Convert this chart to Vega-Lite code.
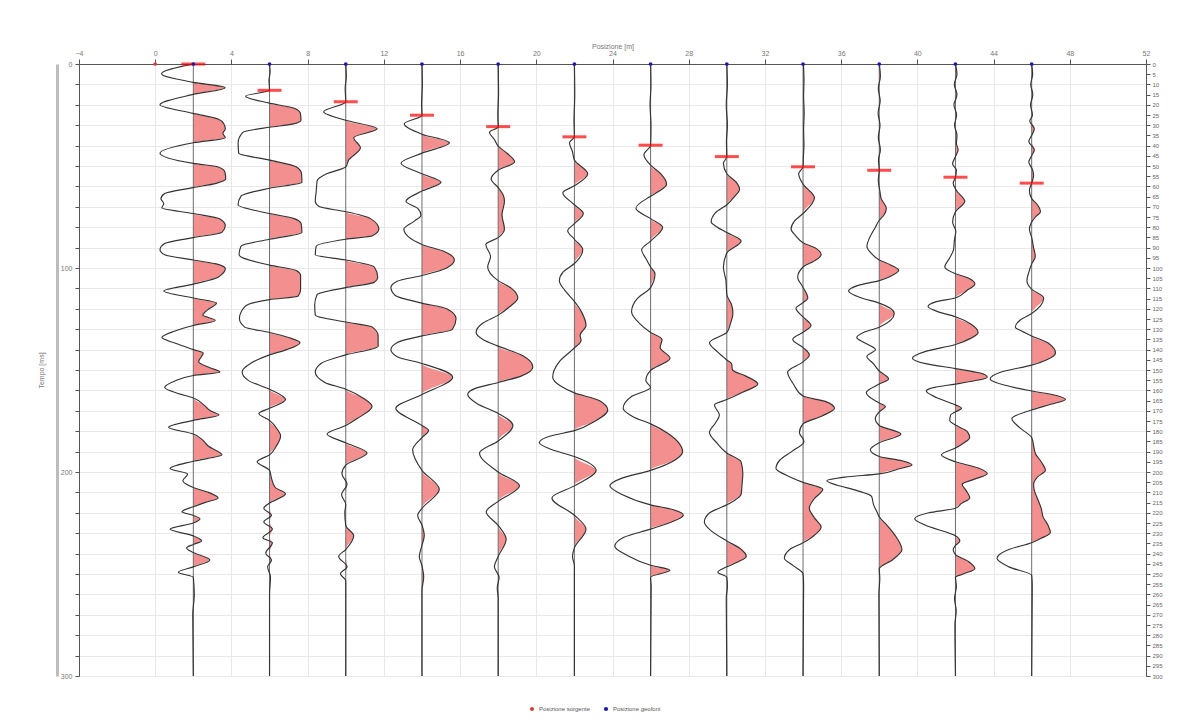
{
  "$schema": "https://vega.github.io/schema/vega-lite/v6.json",
  "width": 1067,
  "height": 612,
  "autosize": "none",
  "padding": {"left": 79, "top": 64, "right": 46, "bottom": 51},
  "background": "white",
  "config": {
    "font": "Liberation Sans",
    "view": {"stroke": null},
    "axis": {"labelFont": "Liberation Sans", "titleFont": "Liberation Sans"}
  },
  "datasets": {
    "tr": [
{"p":2,"t":0,"a":0},{"p":2,"t":4.8,"a":-1.67},{"p":2,"t":9,"a":0},{"p":2,"t":11.6,"a":1.67},{"p":2,"t":14.9,"a":0},{"p":2,"t":20,"a":-1.75},{"p":2,"t":24.2,"a":0},{"p":2,"t":27,"a":1.3},{"p":2,"t":29.3,"a":1.6},{"p":2,"t":31.8,"a":1.68},{"p":2,"t":34,"a":1.55},{"p":2,"t":36.1,"a":1.68},{"p":2,"t":38.6,"a":0},{"p":2,"t":43.7,"a":-1.75},{"p":2,"t":48.7,"a":0},{"p":2,"t":50.5,"a":1.3},{"p":2,"t":53,"a":1.66},{"p":2,"t":56.4,"a":1.7},{"p":2,"t":58.5,"a":1.2},{"p":2,"t":60.6,"a":0},{"p":2,"t":63.5,"a":-1.5},{"p":2,"t":66,"a":-1.7},{"p":2,"t":68.5,"a":-1.55},{"p":2,"t":70.5,"a":-1.65},{"p":2,"t":73.3,"a":0},{"p":2,"t":76,"a":1.4},{"p":2,"t":79.2,"a":1.68},{"p":2,"t":82.5,"a":1.5},{"p":2,"t":85.1,"a":0},{"p":2,"t":88,"a":-1.5},{"p":2,"t":91,"a":-1.75},{"p":2,"t":93.5,"a":-1.5},{"p":2,"t":96.1,"a":0},{"p":2,"t":98,"a":1.2},{"p":2,"t":100.3,"a":1.68},{"p":2,"t":104.5,"a":1.3},{"p":2,"t":107.9,"a":0},{"p":2,"t":111.3,"a":-1.55},{"p":2,"t":114.7,"a":0},{"p":2,"t":117.2,"a":1.22},{"p":2,"t":120.5,"a":0.75},{"p":2,"t":123.1,"a":0.5},{"p":2,"t":125.7,"a":1.15},{"p":2,"t":128.2,"a":0},{"p":2,"t":131,"a":-1.0},{"p":2,"t":134.1,"a":-1.65},{"p":2,"t":137,"a":-0.9},{"p":2,"t":140,"a":0},{"p":2,"t":141.7,"a":0.52},{"p":2,"t":145.9,"a":0.28},{"p":2,"t":149,"a":0.9},{"p":2,"t":151,"a":1.4},{"p":2,"t":152.7,"a":0},{"p":2,"t":155.5,"a":-1.0},{"p":2,"t":158.6,"a":-1.5},{"p":2,"t":161.5,"a":-0.8},{"p":2,"t":163.7,"a":0},{"p":2,"t":167.1,"a":0.55},{"p":2,"t":170,"a":0.9},{"p":2,"t":172.1,"a":1.35},{"p":2,"t":174.7,"a":0},{"p":2,"t":178.1,"a":-1.3},{"p":2,"t":181.4,"a":0},{"p":2,"t":184,"a":0.45},{"p":2,"t":187.4,"a":0.8},{"p":2,"t":191.6,"a":1.5},{"p":2,"t":194.7,"a":0},{"p":2,"t":198.3,"a":-1.22},{"p":2,"t":201,"a":-0.3},{"p":2,"t":204.3,"a":-0.55},{"p":2,"t":207.6,"a":0},{"p":2,"t":210,"a":0.8},{"p":2,"t":212.7,"a":1.3},{"p":2,"t":215,"a":0.6},{"p":2,"t":217,"a":0},{"p":2,"t":219.5,"a":-0.6},{"p":2,"t":221.3,"a":0},{"p":2,"t":222.9,"a":0.35},{"p":2,"t":225,"a":0},{"p":2,"t":228,"a":-1.22},{"p":2,"t":231.3,"a":0},{"p":2,"t":233.8,"a":0.44},{"p":2,"t":235.5,"a":0},{"p":2,"t":237.2,"a":-0.35},{"p":2,"t":239.5,"a":0},{"p":2,"t":243.1,"a":0.87},{"p":2,"t":246.5,"a":0},{"p":2,"t":249.1,"a":-0.79},{"p":2,"t":251.6,"a":0},{"p":2,"t":260,"a":0.05},{"p":2,"t":270,"a":-0.03},{"p":2,"t":300,"a":0},
{"p":6,"t":0,"a":0},{"p":6,"t":4,"a":0.03},{"p":6,"t":8,"a":-0.03},{"p":6,"t":12.9,"a":0},{"p":6,"t":15.8,"a":-1.26},{"p":6,"t":19.2,"a":0},{"p":6,"t":21.7,"a":1.3},{"p":6,"t":24.2,"a":1.62},{"p":6,"t":27.6,"a":1.65},{"p":6,"t":29.5,"a":1.2},{"p":6,"t":31,"a":0},{"p":6,"t":33.5,"a":-1.4},{"p":6,"t":38.6,"a":-1.65},{"p":6,"t":43.7,"a":-1.62},{"p":6,"t":47.1,"a":0},{"p":6,"t":50.4,"a":1.4},{"p":6,"t":53.8,"a":1.68},{"p":6,"t":58,"a":1.7},{"p":6,"t":60.9,"a":0},{"p":6,"t":64.8,"a":-1.5},{"p":6,"t":69,"a":-1.65},{"p":6,"t":73.3,"a":0},{"p":6,"t":75.8,"a":1.3},{"p":6,"t":78.3,"a":1.66},{"p":6,"t":82.6,"a":1.7},{"p":6,"t":85.9,"a":0},{"p":6,"t":89.3,"a":-1.5},{"p":6,"t":93.5,"a":-1.6},{"p":6,"t":98.6,"a":0},{"p":6,"t":101.2,"a":1.4},{"p":6,"t":103.7,"a":1.63},{"p":6,"t":110.4,"a":1.63},{"p":6,"t":113.8,"a":1.5},{"p":6,"t":115.5,"a":0},{"p":6,"t":118.9,"a":-1.3},{"p":6,"t":124.8,"a":-1.58},{"p":6,"t":129,"a":-1.3},{"p":6,"t":131.6,"a":0},{"p":6,"t":134.1,"a":1.0},{"p":6,"t":136.6,"a":1.6},{"p":6,"t":140,"a":0.9},{"p":6,"t":142.6,"a":0},{"p":6,"t":146.8,"a":-1.0},{"p":6,"t":151,"a":-1.44},{"p":6,"t":155.2,"a":-1.1},{"p":6,"t":159.4,"a":0},{"p":6,"t":164.5,"a":0.84},{"p":6,"t":168.8,"a":0},{"p":6,"t":171.3,"a":-0.56},{"p":6,"t":174.7,"a":0},{"p":6,"t":178.9,"a":0.4},{"p":6,"t":182.3,"a":0.58},{"p":6,"t":187.4,"a":0.35},{"p":6,"t":191.6,"a":0},{"p":6,"t":195,"a":-0.65},{"p":6,"t":199.2,"a":0},{"p":6,"t":203,"a":0.1},{"p":6,"t":207.6,"a":0.3},{"p":6,"t":210.7,"a":0.84},{"p":6,"t":215.2,"a":0},{"p":6,"t":217.8,"a":-0.3},{"p":6,"t":221.2,"a":0.1},{"p":6,"t":224.5,"a":-0.3},{"p":6,"t":228,"a":0.15},{"p":6,"t":232.2,"a":-0.35},{"p":6,"t":234.7,"a":0.15},{"p":6,"t":239.8,"a":-0.2},{"p":6,"t":243.1,"a":0.1},{"p":6,"t":246.5,"a":-0.1},{"p":6,"t":251.6,"a":0.05},{"p":6,"t":260,"a":0},{"p":6,"t":300,"a":0},
{"p":10,"t":0,"a":0},{"p":10,"t":6,"a":0.03},{"p":10,"t":12,"a":-0.03},{"p":10,"t":18.5,"a":0},{"p":10,"t":23.4,"a":-1.16},{"p":10,"t":27.6,"a":0},{"p":10,"t":31.8,"a":1.65},{"p":10,"t":36.1,"a":0.42},{"p":10,"t":41.1,"a":0.77},{"p":10,"t":47.1,"a":0.15},{"p":10,"t":50.4,"a":0},{"p":10,"t":53.8,"a":-1.0},{"p":10,"t":57.2,"a":-1.5},{"p":10,"t":62.3,"a":-1.55},{"p":10,"t":67.3,"a":-1.6},{"p":10,"t":69.9,"a":-1.4},{"p":10,"t":72.4,"a":0},{"p":10,"t":75.8,"a":1.3},{"p":10,"t":80.9,"a":1.74},{"p":10,"t":84.2,"a":1.4},{"p":10,"t":85.9,"a":0},{"p":10,"t":89.3,"a":-1.55},{"p":10,"t":93.5,"a":-1.6},{"p":10,"t":96.1,"a":0},{"p":10,"t":99.5,"a":1.5},{"p":10,"t":104.5,"a":1.68},{"p":10,"t":107,"a":1.5},{"p":10,"t":109.6,"a":0},{"p":10,"t":113,"a":-1.5},{"p":10,"t":118,"a":-1.63},{"p":10,"t":123.1,"a":-1.6},{"p":10,"t":126.5,"a":0},{"p":10,"t":129,"a":1.4},{"p":10,"t":133.3,"a":1.7},{"p":10,"t":138.3,"a":1.7},{"p":10,"t":142.6,"a":0},{"p":10,"t":146.8,"a":-1.3},{"p":10,"t":151,"a":-1.6},{"p":10,"t":156.1,"a":-1.1},{"p":10,"t":159.4,"a":0},{"p":10,"t":163.7,"a":0.9},{"p":10,"t":167.9,"a":1.38},{"p":10,"t":173.8,"a":0.6},{"p":10,"t":177.2,"a":0},{"p":10,"t":181.4,"a":-0.98},{"p":10,"t":185.7,"a":0},{"p":10,"t":190.7,"a":1.12},{"p":10,"t":196.6,"a":0},{"p":10,"t":200.9,"a":-0.2},{"p":10,"t":206,"a":0.07},{"p":10,"t":211,"a":-0.22},{"p":10,"t":216,"a":0},{"p":10,"t":220,"a":-0.05},{"p":10,"t":226.2,"a":0},{"p":10,"t":231.3,"a":0.42},{"p":10,"t":238,"a":0},{"p":10,"t":241.4,"a":-0.37},{"p":10,"t":246.5,"a":0.07},{"p":10,"t":249.9,"a":-0.28},{"p":10,"t":253.3,"a":0},{"p":10,"t":300,"a":0},
{"p":14,"t":0,"a":0},{"p":14,"t":10,"a":0.02},{"p":14,"t":20,"a":-0.02},{"p":14,"t":25.1,"a":0},{"p":14,"t":29.3,"a":-0.93},{"p":14,"t":34.4,"a":0},{"p":14,"t":38.6,"a":1.44},{"p":14,"t":43.7,"a":0},{"p":14,"t":48.7,"a":-1.1},{"p":14,"t":53.8,"a":0},{"p":14,"t":58,"a":1.0},{"p":14,"t":62.3,"a":0},{"p":14,"t":67.3,"a":-0.84},{"p":14,"t":71,"a":-0.2},{"p":14,"t":74.1,"a":-0.05},{"p":14,"t":77,"a":-0.4},{"p":14,"t":80.9,"a":-0.95},{"p":14,"t":88.5,"a":0},{"p":14,"t":92,"a":1.2},{"p":14,"t":96.1,"a":1.7},{"p":14,"t":100,"a":1.3},{"p":14,"t":103.7,"a":0},{"p":14,"t":106.5,"a":-1.3},{"p":14,"t":109.6,"a":-1.63},{"p":14,"t":113.5,"a":-1.4},{"p":14,"t":117.2,"a":0},{"p":14,"t":120,"a":1.3},{"p":14,"t":124.8,"a":1.79},{"p":14,"t":130,"a":1.6},{"p":14,"t":133.3,"a":0},{"p":14,"t":136.5,"a":-1.3},{"p":14,"t":140,"a":-1.63},{"p":14,"t":143.5,"a":-1.3},{"p":14,"t":146.8,"a":0},{"p":14,"t":153.5,"a":1.61},{"p":14,"t":162,"a":0},{"p":14,"t":168.8,"a":-1.37},{"p":14,"t":177.2,"a":0},{"p":14,"t":179.7,"a":0.35},{"p":14,"t":183.1,"a":0},{"p":14,"t":189.1,"a":-0.49},{"p":14,"t":199.2,"a":0},{"p":14,"t":208.5,"a":0.91},{"p":14,"t":217.8,"a":0},{"p":14,"t":221.2,"a":-0.23},{"p":14,"t":226,"a":0},{"p":14,"t":231.3,"a":0.12},{"p":14,"t":236,"a":0},{"p":14,"t":241.4,"a":-0.14},{"p":14,"t":246,"a":0},{"p":14,"t":251.6,"a":0.09},{"p":14,"t":258,"a":0},{"p":14,"t":300,"a":0},
{"p":18,"t":0,"a":0},{"p":18,"t":15,"a":0.02},{"p":18,"t":25,"a":-0.02},{"p":18,"t":30.7,"a":0},{"p":18,"t":33.5,"a":-0.46},{"p":18,"t":37,"a":-0.2},{"p":18,"t":40.3,"a":0},{"p":18,"t":44,"a":0.5},{"p":18,"t":47.9,"a":0.86},{"p":18,"t":52.1,"a":0},{"p":18,"t":56.4,"a":-0.37},{"p":18,"t":60.6,"a":0},{"p":18,"t":64,"a":0.25},{"p":18,"t":67.3,"a":0.33},{"p":18,"t":74,"a":0.2},{"p":18,"t":80.9,"a":0.33},{"p":18,"t":85.1,"a":0},{"p":18,"t":88.5,"a":-0.65},{"p":18,"t":94.4,"a":-0.4},{"p":18,"t":99.5,"a":-0.55},{"p":18,"t":106.2,"a":0},{"p":18,"t":110,"a":0.7},{"p":18,"t":114.7,"a":1.03},{"p":18,"t":119,"a":0.6},{"p":18,"t":123.1,"a":0},{"p":18,"t":127,"a":-0.8},{"p":18,"t":131.6,"a":-1.16},{"p":18,"t":135,"a":-0.8},{"p":18,"t":138.3,"a":0},{"p":18,"t":143,"a":1.3},{"p":18,"t":148.5,"a":1.82},{"p":18,"t":153,"a":1.2},{"p":18,"t":156.1,"a":0},{"p":18,"t":159,"a":-1.2},{"p":18,"t":162,"a":-1.6},{"p":18,"t":166.5,"a":-1.1},{"p":18,"t":171.3,"a":0},{"p":18,"t":177.2,"a":0.77},{"p":18,"t":184.8,"a":0},{"p":18,"t":190.7,"a":-0.98},{"p":18,"t":200,"a":0},{"p":18,"t":206.8,"a":1.12},{"p":18,"t":214.4,"a":0},{"p":18,"t":219.5,"a":-0.63},{"p":18,"t":226.2,"a":0},{"p":18,"t":233,"a":0.42},{"p":18,"t":241.4,"a":0},{"p":18,"t":246.5,"a":-0.2},{"p":18,"t":251.6,"a":0.05},{"p":18,"t":256.7,"a":-0.05},{"p":18,"t":262,"a":0},{"p":18,"t":300,"a":0},
{"p":22,"t":0,"a":0},{"p":22,"t":15,"a":0.02},{"p":22,"t":28,"a":-0.02},{"p":22,"t":35.7,"a":0},{"p":22,"t":38.6,"a":-0.26},{"p":22,"t":43,"a":-0.1},{"p":22,"t":47.1,"a":0},{"p":22,"t":53.8,"a":0.7},{"p":22,"t":59.7,"a":0},{"p":22,"t":63.1,"a":-0.61},{"p":22,"t":69,"a":0},{"p":22,"t":73.3,"a":0.47},{"p":22,"t":78.3,"a":0},{"p":22,"t":81.7,"a":-0.35},{"p":22,"t":85.9,"a":0},{"p":22,"t":91,"a":0.44},{"p":22,"t":97.8,"a":0},{"p":22,"t":102,"a":-0.6},{"p":22,"t":106.2,"a":-0.79},{"p":22,"t":111,"a":-0.5},{"p":22,"t":116.4,"a":0},{"p":22,"t":122,"a":0.4},{"p":22,"t":128.2,"a":0.61},{"p":22,"t":133,"a":0.3},{"p":22,"t":135.5,"a":0.35},{"p":22,"t":139.2,"a":0},{"p":22,"t":146,"a":-0.8},{"p":22,"t":153.5,"a":-1.14},{"p":22,"t":158,"a":-0.7},{"p":22,"t":161.2,"a":0},{"p":22,"t":165,"a":1.3},{"p":22,"t":169.6,"a":1.75},{"p":22,"t":175,"a":1.1},{"p":22,"t":179.7,"a":0},{"p":22,"t":182.5,"a":-1.3},{"p":22,"t":185.7,"a":-1.84},{"p":22,"t":189,"a":-1.2},{"p":22,"t":192.4,"a":0},{"p":22,"t":199.2,"a":1.14},{"p":22,"t":206.8,"a":0},{"p":22,"t":212.7,"a":-1.18},{"p":22,"t":221.2,"a":0},{"p":22,"t":228,"a":0.61},{"p":22,"t":237.2,"a":0},{"p":22,"t":241.4,"a":-0.1},{"p":22,"t":246,"a":0},{"p":22,"t":300,"a":0},
{"p":26,"t":0,"a":0},{"p":26,"t":10,"a":0.02},{"p":26,"t":20,"a":-0.03},{"p":26,"t":30,"a":0.02},{"p":26,"t":39.8,"a":0},{"p":26,"t":44.5,"a":-0.35},{"p":26,"t":49.6,"a":0},{"p":26,"t":54,"a":0.55},{"p":26,"t":58.9,"a":0.84},{"p":26,"t":62,"a":0.5},{"p":26,"t":64.8,"a":0},{"p":26,"t":70.7,"a":-0.77},{"p":26,"t":75.8,"a":0},{"p":26,"t":80,"a":0.63},{"p":26,"t":86.8,"a":0},{"p":26,"t":91,"a":-0.47},{"p":26,"t":96.1,"a":-0.2},{"p":26,"t":99.5,"a":0},{"p":26,"t":102.8,"a":0.23},{"p":26,"t":109.6,"a":0},{"p":26,"t":115,"a":-0.7},{"p":26,"t":121.4,"a":-1.0},{"p":26,"t":127,"a":-0.6},{"p":26,"t":131.6,"a":0},{"p":26,"t":135,"a":0.6},{"p":26,"t":139,"a":0.5},{"p":26,"t":144.2,"a":1.02},{"p":26,"t":150.2,"a":0},{"p":26,"t":155.2,"a":-0.25},{"p":26,"t":158.6,"a":0},{"p":26,"t":163,"a":-1.0},{"p":26,"t":168.8,"a":-1.44},{"p":26,"t":173,"a":-0.9},{"p":26,"t":176.4,"a":0},{"p":26,"t":181,"a":0.9},{"p":26,"t":186,"a":1.5},{"p":26,"t":189.9,"a":1.68},{"p":26,"t":194,"a":1.3},{"p":26,"t":199.2,"a":0},{"p":26,"t":203,"a":-1.5},{"p":26,"t":206.8,"a":-2.14},{"p":26,"t":211,"a":-1.5},{"p":26,"t":216.1,"a":0},{"p":26,"t":218.5,"a":1.2},{"p":26,"t":221.2,"a":1.72},{"p":26,"t":224.5,"a":1.1},{"p":26,"t":228,"a":0},{"p":26,"t":232,"a":-1.4},{"p":26,"t":236.4,"a":-1.88},{"p":26,"t":241,"a":-1.2},{"p":26,"t":245.7,"a":0},{"p":26,"t":248.2,"a":1.02},{"p":26,"t":251.6,"a":0},{"p":26,"t":256,"a":0.03},{"p":26,"t":300,"a":0},
{"p":30,"t":0,"a":0},{"p":30,"t":10,"a":0.03},{"p":30,"t":20,"a":-0.03},{"p":30,"t":30,"a":0.03},{"p":30,"t":38,"a":-0.02},{"p":30,"t":45.4,"a":0},{"p":30,"t":48.7,"a":-0.18},{"p":30,"t":53.8,"a":0},{"p":30,"t":58,"a":0.5},{"p":30,"t":61.4,"a":0.67},{"p":30,"t":65,"a":0.4},{"p":30,"t":69,"a":0},{"p":30,"t":73,"a":-0.6},{"p":30,"t":77.5,"a":-0.82},{"p":30,"t":80,"a":-0.5},{"p":30,"t":82.6,"a":0},{"p":30,"t":86.8,"a":0.75},{"p":30,"t":92.7,"a":0},{"p":30,"t":99.5,"a":-0.18},{"p":30,"t":106,"a":-0.05},{"p":30,"t":113,"a":0},{"p":30,"t":118,"a":0.25},{"p":30,"t":122.3,"a":0.32},{"p":30,"t":127,"a":0.2},{"p":30,"t":131.6,"a":0},{"p":30,"t":136.6,"a":-0.91},{"p":30,"t":141,"a":-0.5},{"p":30,"t":145.1,"a":0},{"p":30,"t":147,"a":0.25},{"p":30,"t":150,"a":0.3},{"p":30,"t":153,"a":1.0},{"p":30,"t":156.9,"a":1.63},{"p":30,"t":161,"a":0.8},{"p":30,"t":164.5,"a":0},{"p":30,"t":167.1,"a":-0.65},{"p":30,"t":172.1,"a":-0.39},{"p":30,"t":176,"a":-0.6},{"p":30,"t":180.6,"a":-0.91},{"p":30,"t":186,"a":-0.5},{"p":30,"t":190.7,"a":0},{"p":30,"t":195,"a":0.75},{"p":30,"t":200.9,"a":0.84},{"p":30,"t":206,"a":0.8},{"p":30,"t":211,"a":0.75},{"p":30,"t":216.1,"a":0},{"p":30,"t":220,"a":-0.9},{"p":30,"t":224.5,"a":-1.18},{"p":30,"t":229,"a":-0.8},{"p":30,"t":233.8,"a":0},{"p":30,"t":237.5,"a":0.7},{"p":30,"t":241.4,"a":1.02},{"p":30,"t":244,"a":0.6},{"p":30,"t":246.5,"a":0},{"p":30,"t":249.1,"a":-0.47},{"p":30,"t":251.6,"a":0},{"p":30,"t":256,"a":0.03},{"p":30,"t":262,"a":-0.03},{"p":30,"t":300,"a":0},
{"p":34,"t":0,"a":0.02},{"p":34,"t":8,"a":0.05},{"p":34,"t":16,"a":0.03},{"p":34,"t":24,"a":0.06},{"p":34,"t":32,"a":0.03},{"p":34,"t":40,"a":0.05},{"p":34,"t":45,"a":0.02},{"p":34,"t":50.4,"a":0},{"p":34,"t":53.8,"a":-0.23},{"p":34,"t":58.9,"a":0},{"p":34,"t":65.6,"a":0.6},{"p":34,"t":73.3,"a":0},{"p":34,"t":77,"a":-0.45},{"p":34,"t":80.9,"a":-0.63},{"p":34,"t":84,"a":-0.4},{"p":34,"t":87.6,"a":0},{"p":34,"t":90.5,"a":0.7},{"p":34,"t":93.5,"a":0.95},{"p":34,"t":96.5,"a":0.6},{"p":34,"t":99.5,"a":0},{"p":34,"t":104.5,"a":-0.28},{"p":34,"t":109.5,"a":0},{"p":34,"t":114.7,"a":0.25},{"p":34,"t":117,"a":0},{"p":34,"t":119.7,"a":-0.37},{"p":34,"t":124,"a":0},{"p":34,"t":128.2,"a":0.42},{"p":34,"t":131.5,"a":0},{"p":34,"t":135,"a":-0.54},{"p":34,"t":139,"a":0},{"p":34,"t":142.6,"a":0.33},{"p":34,"t":146,"a":0},{"p":34,"t":151,"a":-0.81},{"p":34,"t":157,"a":-0.5},{"p":34,"t":162.8,"a":0},{"p":34,"t":165.5,"a":1.2},{"p":34,"t":168.8,"a":1.65},{"p":34,"t":172.5,"a":1.0},{"p":34,"t":176.4,"a":0},{"p":34,"t":180.6,"a":-0.19},{"p":34,"t":185,"a":0.05},{"p":34,"t":190,"a":-0.6},{"p":34,"t":194,"a":-1.2},{"p":34,"t":198.3,"a":-1.42},{"p":34,"t":201.5,"a":-0.9},{"p":34,"t":205.1,"a":0},{"p":34,"t":208.5,"a":1.04},{"p":34,"t":213,"a":0.6},{"p":34,"t":217.8,"a":0.33},{"p":34,"t":222.5,"a":0.6},{"p":34,"t":227,"a":0.95},{"p":34,"t":231,"a":0.6},{"p":34,"t":234.7,"a":0},{"p":34,"t":238,"a":-0.7},{"p":34,"t":242.3,"a":-0.98},{"p":34,"t":246,"a":-0.5},{"p":34,"t":249.9,"a":0},{"p":34,"t":255,"a":0.03},{"p":34,"t":300,"a":0},
{"p":38,"t":0,"a":0},{"p":38,"t":6,"a":0.06},{"p":38,"t":12,"a":-0.05},{"p":38,"t":18,"a":0.05},{"p":38,"t":24,"a":-0.06},{"p":38,"t":30,"a":0.04},{"p":38,"t":36,"a":-0.05},{"p":38,"t":42,"a":0.06},{"p":38,"t":47,"a":-0.04},{"p":38,"t":52.1,"a":0},{"p":38,"t":57,"a":-0.05},{"p":38,"t":62,"a":0.03},{"p":38,"t":66,"a":0.1},{"p":38,"t":70.7,"a":0.37},{"p":38,"t":74,"a":0.25},{"p":38,"t":76.6,"a":0},{"p":38,"t":80,"a":-0.2},{"p":38,"t":85,"a":-0.5},{"p":38,"t":89.3,"a":-0.65},{"p":38,"t":93,"a":-0.4},{"p":38,"t":96.1,"a":0},{"p":38,"t":98.5,"a":0.6},{"p":38,"t":101.1,"a":1.02},{"p":38,"t":104,"a":0.6},{"p":38,"t":106.2,"a":0},{"p":38,"t":108.5,"a":-1.1},{"p":38,"t":111.3,"a":-1.61},{"p":38,"t":114.5,"a":-1.0},{"p":38,"t":117.2,"a":0},{"p":38,"t":122.3,"a":0.79},{"p":38,"t":129,"a":0},{"p":38,"t":131.5,"a":-0.8},{"p":38,"t":134.1,"a":-1.18},{"p":38,"t":137,"a":-0.7},{"p":38,"t":140,"a":-0.2},{"p":38,"t":143.4,"a":-0.65},{"p":38,"t":147,"a":-0.3},{"p":38,"t":150.5,"a":0},{"p":38,"t":154.4,"a":0.49},{"p":38,"t":156.9,"a":0},{"p":38,"t":161.1,"a":-0.68},{"p":38,"t":166.2,"a":0},{"p":38,"t":167.9,"a":0.32},{"p":38,"t":170.5,"a":0},{"p":38,"t":173.8,"a":-0.21},{"p":38,"t":177.2,"a":0},{"p":38,"t":181.4,"a":1.14},{"p":38,"t":185.7,"a":0},{"p":38,"t":189.1,"a":-0.47},{"p":38,"t":192.4,"a":0},{"p":38,"t":194.5,"a":1.2},{"p":38,"t":196.6,"a":1.72},{"p":38,"t":198.5,"a":1.0},{"p":38,"t":200.9,"a":0},{"p":38,"t":202.5,"a":-1.8},{"p":38,"t":204.3,"a":-2.75},{"p":38,"t":206.5,"a":-2.2},{"p":38,"t":209,"a":-1.2},{"p":38,"t":212,"a":-0.4},{"p":38,"t":216,"a":-0.3},{"p":38,"t":220,"a":-0.1},{"p":38,"t":222,"a":0},{"p":38,"t":226,"a":0.4},{"p":38,"t":232,"a":0.9},{"p":38,"t":238,"a":1.19},{"p":38,"t":243,"a":0.7},{"p":38,"t":247.4,"a":0},{"p":38,"t":252,"a":0.03},{"p":38,"t":260,"a":-0.02},{"p":38,"t":300,"a":0},
{"p":42,"t":0,"a":0},{"p":42,"t":5,"a":0.08},{"p":42,"t":10,"a":-0.06},{"p":42,"t":15,"a":0.08},{"p":42,"t":20,"a":-0.08},{"p":42,"t":25,"a":0.06},{"p":42,"t":30,"a":-0.05},{"p":42,"t":35,"a":0.08},{"p":42,"t":39,"a":0.05},{"p":42,"t":42,"a":0.14},{"p":42,"t":45,"a":0.02},{"p":42,"t":49,"a":-0.15},{"p":42,"t":52,"a":0.05},{"p":42,"t":55.5,"a":0},{"p":42,"t":58.5,"a":-0.12},{"p":42,"t":62,"a":0.05},{"p":42,"t":67.3,"a":0.49},{"p":42,"t":72.4,"a":0},{"p":42,"t":77.5,"a":-0.15},{"p":42,"t":82,"a":0.02},{"p":42,"t":86,"a":-0.05},{"p":42,"t":91,"a":-0.1},{"p":42,"t":95,"a":-0.3},{"p":42,"t":99.5,"a":-0.56},{"p":42,"t":102.8,"a":0},{"p":42,"t":105,"a":0.7},{"p":42,"t":107.9,"a":1.02},{"p":42,"t":111,"a":0.6},{"p":42,"t":114.7,"a":0},{"p":42,"t":116.5,"a":-1.0},{"p":42,"t":118.9,"a":-1.44},{"p":42,"t":121.5,"a":-0.9},{"p":42,"t":123.9,"a":0},{"p":42,"t":127.5,"a":0.8},{"p":42,"t":131.6,"a":1.19},{"p":42,"t":134.5,"a":0.8},{"p":42,"t":137.5,"a":0},{"p":42,"t":141,"a":-1.6},{"p":42,"t":144.2,"a":-2.26},{"p":42,"t":147,"a":-1.5},{"p":42,"t":149.3,"a":0},{"p":42,"t":151.5,"a":1.3},{"p":42,"t":153.5,"a":1.67},{"p":42,"t":155.3,"a":1.0},{"p":42,"t":156.9,"a":0},{"p":42,"t":158.5,"a":-1.1},{"p":42,"t":160.3,"a":-1.53},{"p":42,"t":163.5,"a":-1.0},{"p":42,"t":167.1,"a":0},{"p":42,"t":168.8,"a":0.32},{"p":42,"t":170.5,"a":0},{"p":42,"t":172,"a":-0.25},{"p":42,"t":174.7,"a":-0.3},{"p":42,"t":177,"a":0},{"p":42,"t":180,"a":0.6},{"p":42,"t":183.1,"a":0.75},{"p":42,"t":186,"a":0.4},{"p":42,"t":188.2,"a":0},{"p":42,"t":191.6,"a":-0.74},{"p":42,"t":195,"a":0},{"p":42,"t":198,"a":1.2},{"p":42,"t":200.9,"a":1.67},{"p":42,"t":203.5,"a":1.0},{"p":42,"t":206,"a":0.35},{"p":42,"t":209,"a":0.55},{"p":42,"t":212.7,"a":0.75},{"p":42,"t":215.5,"a":0.3},{"p":42,"t":217.8,"a":0},{"p":42,"t":220,"a":-1.4},{"p":42,"t":222.9,"a":-2.14},{"p":42,"t":226,"a":-1.6},{"p":42,"t":231.3,"a":0},{"p":42,"t":233.8,"a":0.23},{"p":42,"t":236,"a":0},{"p":42,"t":238,"a":-0.12},{"p":42,"t":240.5,"a":0},{"p":42,"t":244,"a":0.7},{"p":42,"t":247.4,"a":1.02},{"p":42,"t":250,"a":0.4},{"p":42,"t":251.6,"a":0},{"p":42,"t":256,"a":0.05},{"p":42,"t":262,"a":-0.05},{"p":42,"t":268,"a":0.04},{"p":42,"t":275,"a":-0.03},{"p":42,"t":300,"a":0},
{"p":46,"t":0,"a":0},{"p":46,"t":5,"a":0.05},{"p":46,"t":10,"a":-0.05},{"p":46,"t":15,"a":0.06},{"p":46,"t":20,"a":-0.06},{"p":46,"t":25,"a":0.04},{"p":46,"t":28,"a":-0.1},{"p":46,"t":31.8,"a":0.14},{"p":46,"t":35,"a":0},{"p":46,"t":38,"a":-0.15},{"p":46,"t":42,"a":0.14},{"p":46,"t":45,"a":0},{"p":46,"t":48,"a":-0.15},{"p":46,"t":52,"a":0.05},{"p":46,"t":54.5,"a":0.1},{"p":46,"t":58.4,"a":0},{"p":46,"t":62,"a":-0.12},{"p":46,"t":66,"a":0},{"p":46,"t":69,"a":0.3},{"p":46,"t":72.4,"a":0.46},{"p":46,"t":75,"a":0.2},{"p":46,"t":77.5,"a":0},{"p":46,"t":81,"a":-0.12},{"p":46,"t":85,"a":0},{"p":46,"t":90,"a":0.1},{"p":46,"t":94.4,"a":0.19},{"p":46,"t":98,"a":0},{"p":46,"t":102,"a":-0.15},{"p":46,"t":106.2,"a":-0.25},{"p":46,"t":110.4,"a":0},{"p":46,"t":114.7,"a":0.63},{"p":46,"t":122.3,"a":0},{"p":46,"t":125.5,"a":-0.6},{"p":46,"t":129,"a":-0.86},{"p":46,"t":131,"a":-0.5},{"p":46,"t":133.3,"a":0},{"p":46,"t":137,"a":0.9},{"p":46,"t":141.7,"a":1.25},{"p":46,"t":145,"a":0.8},{"p":46,"t":147.6,"a":0},{"p":46,"t":151,"a":-1.6},{"p":46,"t":154.4,"a":-2.18},{"p":46,"t":157.5,"a":-1.4},{"p":46,"t":160.3,"a":0},{"p":46,"t":162.5,"a":1.3},{"p":46,"t":164.5,"a":1.77},{"p":46,"t":166.8,"a":1.0},{"p":46,"t":169.6,"a":0},{"p":46,"t":173.8,"a":-1.04},{"p":46,"t":178.5,"a":-0.6},{"p":46,"t":183.1,"a":0},{"p":46,"t":187,"a":0.1},{"p":46,"t":191,"a":0.2},{"p":46,"t":195,"a":0.5},{"p":46,"t":199.2,"a":0.72},{"p":46,"t":202.5,"a":0.3},{"p":46,"t":206,"a":0.1},{"p":46,"t":209.4,"a":0.15},{"p":46,"t":213,"a":0.3},{"p":46,"t":217.8,"a":0.5},{"p":46,"t":222,"a":0.6},{"p":46,"t":226,"a":0.85},{"p":46,"t":229.6,"a":0.98},{"p":46,"t":232.5,"a":0.5},{"p":46,"t":234.7,"a":0},{"p":46,"t":238,"a":-1.2},{"p":46,"t":242.3,"a":-1.82},{"p":46,"t":246.5,"a":-1.2},{"p":46,"t":250.7,"a":0},{"p":46,"t":256,"a":0.03},{"p":46,"t":300,"a":0}
    ],
    "picks": [
      {"p":2,"t":0},{"p":6,"t":12.9},{"p":10,"t":18.5},{"p":14,"t":25.1},{"p":18,"t":30.7},{"p":22,"t":35.7},{"p":26,"t":39.8},{"p":30,"t":45.4},{"p":34,"t":50.4},{"p":38,"t":52.1},{"p":42,"t":55.5},{"p":46,"t":58.4}
    ],
    "pts": [
      {"p":0,"t":0,"tipo":"Posizione sorgente"},
      {"p":2,"t":0,"tipo":"Posizione geofoni"},{"p":6,"t":0,"tipo":"Posizione geofoni"},{"p":10,"t":0,"tipo":"Posizione geofoni"},{"p":14,"t":0,"tipo":"Posizione geofoni"},{"p":18,"t":0,"tipo":"Posizione geofoni"},{"p":22,"t":0,"tipo":"Posizione geofoni"},{"p":26,"t":0,"tipo":"Posizione geofoni"},{"p":30,"t":0,"tipo":"Posizione geofoni"},{"p":34,"t":0,"tipo":"Posizione geofoni"},{"p":38,"t":0,"tipo":"Posizione geofoni"},{"p":42,"t":0,"tipo":"Posizione geofoni"},{"p":46,"t":0,"tipo":"Posizione geofoni"}
    ]
  },
  "resolve": {"axis": {"y": "independent"}},
  "layer": [
    {
      "data": {"name": "tr"},
      "transform": [{"calculate": "datum.p + max(datum.a, 0)", "as": "xf"}],
      "mark": {"type": "area", "orient": "horizontal", "interpolate": "monotone", "color": "#f38f8f", "opacity": 1},
      "encoding": {
        "x": {"field": "xf", "type": "quantitative", "scale": {"domain": [-4, 52], "nice": false, "zero": false},
          "axis": {"orient": "top", "title": "Posizione [m]", "values": [-4,-2,0,2,4,6,8,10,12,14,16,18,20,22,24,26,28,30,32,34,36,38,40,42,44,46,48,50,52],
            "labelExpr": "datum.value % 4 === 0 ? datum.label : ''",
            "grid": true,
            "gridColor": {"condition": {"test": "datum.value % 4 === 0", "value": "#e8e8e8"}, "value": "transparent"},
            "tickSize": {"condition": {"test": "datum.value % 4 === 0", "value": 5}, "value": 3},
            "labelFontSize": 7, "labelColor": "#777", "titleFontSize": 7, "titleColor": "#777", "titleFontWeight": "normal",
            "domainColor": "#555", "tickColor": "#555", "labelPadding": 3, "titlePadding": 0, "labelFlush": false}},
        "x2": {"field": "p"},
        "y": {"field": "t", "type": "quantitative", "scale": {"domain": [0, 300], "reverse": true, "nice": false},
          "axis": {"orient": "left", "title": "Tempo [ms]", "values": [0,10,20,30,40,50,60,70,80,90,100,110,120,130,140,150,160,170,180,190,200,210,220,230,240,250,260,270,280,290,300],
            "labelExpr": "datum.value % 100 === 0 ? datum.label : ''",
            "grid": true, "gridColor": "#e8e8e8", "tickSize": 4,
            "labelFontSize": 7, "labelColor": "#777", "titleFontSize": 7, "titleColor": "#777", "titleFontWeight": "normal",
            "titlePadding": 16, "domainColor": "#555", "tickColor": "#555", "labelPadding": 3}},
        "detail": {"field": "p", "type": "nominal"}
      }
    },
    {
      "data": {"name": "picks"},
      "mark": {"type": "rule", "color": "#6e6e6e", "strokeWidth": 1},
      "encoding": {
        "x": {"field": "p", "type": "quantitative"}
      }
    },
    {
      "data": {"name": "tr"},
      "transform": [{"calculate": "datum.p + datum.a", "as": "xx"}],
      "mark": {"type": "area", "orient": "horizontal", "interpolate": "monotone", "filled": false, "stroke": "#333333", "strokeWidth": 1.15},
      "encoding": {
        "x": {"field": "xx", "type": "quantitative"},
        "x2": {"field": "xx"},
        "y": {"field": "t", "type": "quantitative", "axis": null},
        "detail": {"field": "p", "type": "nominal"}
      }
    },
    {
      "data": {"name": "picks"},
      "mark": {"type": "tick", "orient": "horizontal", "size": 24, "thickness": 3, "color": "#ff0000"},
      "encoding": {
        "x": {"field": "p", "type": "quantitative"},
        "y": {"field": "t", "type": "quantitative",
          "axis": {"orient": "right", "title": null, "values": [0,5,10,15,20,25,30,35,40,45,50,55,60,65,70,75,80,85,90,95,100,105,110,115,120,125,130,135,140,145,150,155,160,165,170,175,180,185,190,195,200,205,210,215,220,225,230,235,240,245,250,255,260,265,270,275,280,285,290,295,300],
            "grid": false, "tickSize": 4, "labelFontSize": 6, "labelColor": "#666", "domainColor": "#555", "tickColor": "#555", "labelPadding": 2, "labelOverlap": false, "labelBound": false}}
      }
    },
    {
      "data": {"name": "pts"},
      "mark": {"type": "circle", "size": 14, "opacity": 1},
      "encoding": {
        "x": {"field": "p", "type": "quantitative"},
        "y": {"field": "t", "type": "quantitative",
          "axis": {"orient": "left", "offset": 22, "title": null, "labels": false, "ticks": false, "grid": false, "domainWidth": 3, "domainColor": "#bdbdbd"}},
        "color": {"field": "tipo", "type": "nominal", "scale": {"domain": ["Posizione sorgente", "Posizione geofoni"], "range": ["#d84040", "#1a1aa8"]},
          "legend": {"orient": "none", "legendX": 450, "legendY": 642, "direction": "horizontal", "title": null, "labelFontSize": 6, "labelColor": "#555", "symbolSize": 18, "columnPadding": 12, "symbolType": "circle"}}
      }
    }
  ]
}
